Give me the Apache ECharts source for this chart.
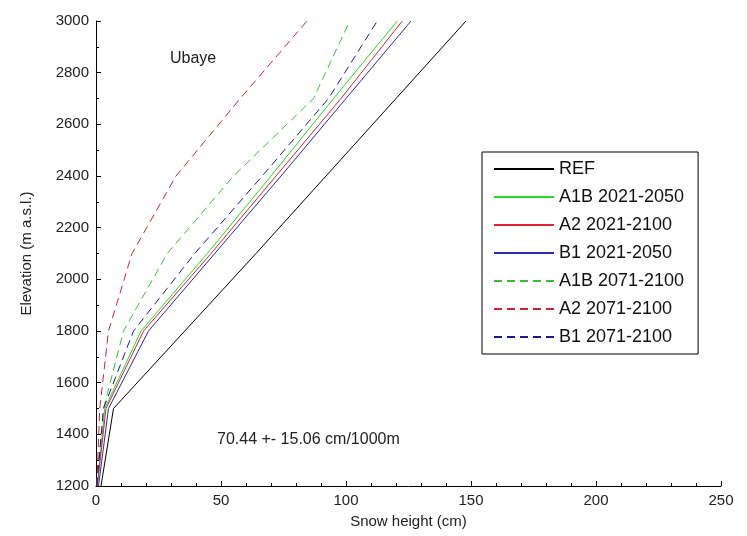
<!DOCTYPE html>
<html>
<head>
<meta charset="utf-8">
<script src="https://cdn.jsdelivr.net/npm/echarts@6/dist/echarts.min.js"></script>
<style>
  html, body { margin: 0; padding: 0; background: #fff; }
  #chart { width: 747px; height: 536px; }
</style>
</head>
<body>
<div id="chart"></div>
<script>
// elevation levels (m a.s.l.)
var elevation = [1200, 1500, 1800, 2100, 2400, 2700, 3000];

// snow height (cm) per scenario at each elevation
var ref      = [2, 7, 35.5, 64, 92, 120, 148];
var a1b2021  = [0.5, 3.5, 18, 44.5, 70, 95, 120.5];
var a22021   = [0.5, 4, 19, 46, 72, 98, 122.5];
var b12021   = [1, 5, 21, 47.5, 74, 100, 126];
var a1b2071  = [0.3, 3, 11, 28.5, 55, 87, 101.5];
var a22071   = [0.3, 1.5, 5, 14.4, 32, 57.7, 84.4];
var b12071   = [0.3, 3, 15, 39.5, 66.5, 93, 112.5];

var xTicks = [0, 50, 100, 150, 200, 250];
var yTicks = [1200, 1400, 1600, 1800, 2000, 2200, 2400, 2600, 2800, 3000];

function pairs(vals) {
    return vals.map(function (v, i) { return [v, elevation[i]]; });
}

var fontFam = 'Arial, "Liberation Sans", sans-serif';

function line(name, vals, color, dashed) {
    return {
        name: name,
        type: 'line',
        symbol: 'none',
        data: pairs(vals),
        lineStyle: {
            color: color,
            width: 1,
            type: dashed ? [8, 5] : 'solid'
        },
        itemStyle: { color: color },
        z: 2
    };
}

var chart = echarts.init(document.getElementById('chart'));

var option = {
    animation: false,
    grid: { left: 96, right: 26, top: 21, bottom: 50 },
    xAxis: {
        type: 'value',
        min: xTicks[0],
        max: xTicks[xTicks.length - 1],
        interval: 50,
        name: 'Snow height (cm)',
        nameLocation: 'middle',
        nameGap: 28,
        nameTextStyle: { fontFamily: fontFam, fontSize: 15, color: '#222', verticalAlign: 'top' },
        axisLine: { show: true, lineStyle: { color: '#000', width: 1 } },
        axisTick: { show: true, inside: true, length: 5, lineStyle: { color: '#000' } },
        minorTick: { show: true, splitNumber: 5, length: 3, lineStyle: { color: '#000' } },
        axisLabel: { fontFamily: fontFam, fontSize: 15, color: '#222', margin: 7 },
        splitLine: { show: false }
    },
    yAxis: {
        type: 'value',
        min: yTicks[0],
        max: yTicks[yTicks.length - 1],
        interval: 200,
        name: 'Elevation (m a.s.l.)',
        nameLocation: 'middle',
        nameGap: 62,
        nameTextStyle: { fontFamily: fontFam, fontSize: 15, color: '#222' },
        axisLine: { show: true, lineStyle: { color: '#000', width: 1 } },
        axisTick: { show: true, inside: true, length: 5, lineStyle: { color: '#000' } },
        minorTick: { show: true, splitNumber: 2, length: 3, lineStyle: { color: '#000' } },
        axisLabel: {
            fontFamily: fontFam, fontSize: 15, color: '#222', margin: 7,
            formatter: function (v) { return String(v); }
        },
        splitLine: { show: false }
    },
    legend: {
        orient: 'vertical',
        left: 482,
        top: 152,
        padding: [7, 14, 7, 11],
        itemWidth: 60,
        itemHeight: 14,
        itemGap: 8,
        borderColor: '#000',
        borderWidth: 1,
        backgroundColor: '#fff',
        itemStyle: { opacity: 0 },
        textStyle: { fontFamily: fontFam, fontSize: 18, color: '#111', lineHeight: 20 },
        data: ['REF', 'A1B 2021-2050', 'A2 2021-2100', 'B1 2021-2050',
               'A1B 2071-2100', 'A2 2071-2100', 'B1 2071-2100']
    },
    graphic: [
        {
            type: 'text',
            left: 170,
            top: 51,
            style: { text: 'Ubaye', fontFamily: fontFam, fontSize: 16, fill: '#222' }
        },
        {
            type: 'text',
            left: 217,
            top: 432,
            style: { text: '70.44 +- 15.06 cm/1000m', fontFamily: fontFam, fontSize: 16, fill: '#222' }
        }
    ],
    series: [
        line('REF', ref, '#000000', false),
        line('A1B 2021-2050', a1b2021, '#22dd22', false),
        line('A2 2021-2100', a22021, '#dd2233', false),
        line('B1 2021-2050', b12021, '#2a2aa8', false),
        line('A1B 2071-2100', a1b2071, '#33c033', true),
        line('A2 2071-2100', a22071, '#cc2233', true),
        line('B1 2071-2100', b12071, '#1a1a90', true)
    ]
};

chart.setOption(option);

window.addEventListener('resize', function () {
    chart.resize();
});
</script>
</body>
</html>
